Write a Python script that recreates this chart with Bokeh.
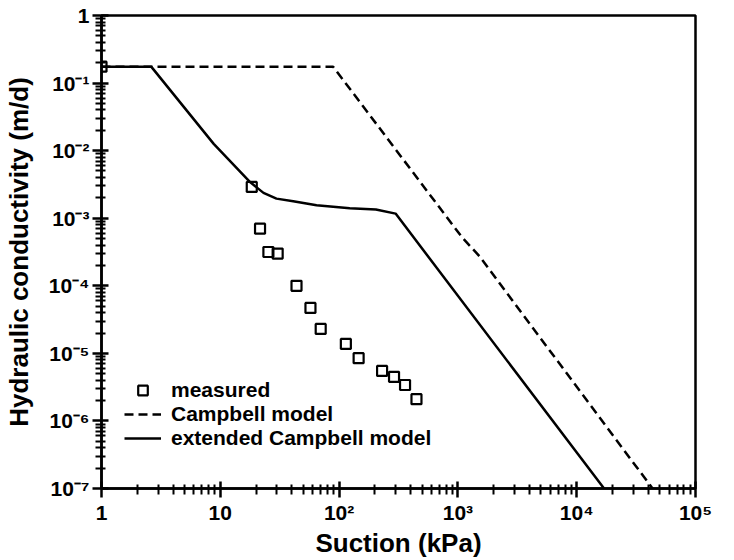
from bokeh.plotting import figure
from bokeh.models import Range1d, FixedTicker, Legend, LegendItem
from bokeh.embed import file_html
from bokeh.resources import INLINE

# ---- data ----
measured_x = [1, 18.4, 21.6, 25.4, 30.4, 43.8, 57.4, 70, 114, 146, 230, 290, 359, 448]
measured_y = [0.175, 2.9e-3, 7.0e-4, 3.16e-4, 3.0e-4, 1.0e-4, 4.7e-5, 2.3e-5,
              1.38e-5, 8.5e-6, 5.5e-6, 4.5e-6, 3.4e-6, 2.1e-6]

campbell_x = [1, 89, 1085, 1515, 43500]
campbell_y = [0.175, 0.175, 5.2e-4, 2.75e-4, 1e-7]

ext_x = [1, 2.62, 8.8, 17.9, 23.1, 29.7, 41.1, 64.6, 123, 204, 299, 17000]
ext_y = [0.175, 0.175, 0.0126, 3.4e-3, 2.37e-3, 1.95e-3, 1.78e-3, 1.55e-3,
         1.41e-3, 1.35e-3, 1.17e-3, 1e-7]

x_ticks = [1, 10, 100, 1000, 10000, 100000]
x_tick_labels = ["1", "10", "10\u00b2", "10\u00b3", "10\u2074", "10\u2075"]
y_ticks = [1e-7, 1e-6, 1e-5, 1e-4, 1e-3, 1e-2, 1e-1, 1]
y_tick_labels = ["10\u207b\u2077", "10\u207b\u2076", "10\u207b\u2075", "10\u207b\u2074",
                 "10\u207b\u00b3", "10\u207b\u00b2", "10\u207b\u00b9", "1"]

x_label = "Suction (kPa)"
y_label = "Hydraulic conductivity (m/d)"
series_names = ["measured", "Campbell model", "extended Campbell model"]

FONT = "Liberation Sans"

p = figure(width=734, height=560, x_axis_type="log", y_axis_type="log",
           x_range=Range1d(1, 1e5), y_range=Range1d(1e-7, 1),
           output_backend="svg", toolbar_location=None,
           min_border_left=97, min_border_right=39, min_border_top=15,
           min_border_bottom=70)
p.grid.visible = False
p.outline_line_color = "black"
p.outline_line_width = 2.5
p.background_fill_color = "white"
p.border_fill_color = "white"

def minor(ticks):
    out = []
    for t in ticks[:-1]:
        out += [t * k for k in range(2, 10)]
    return out

p.xaxis.ticker = FixedTicker(ticks=x_ticks, minor_ticks=minor(x_ticks))
p.yaxis.ticker = FixedTicker(ticks=y_ticks, minor_ticks=minor(y_ticks))
p.xaxis.major_label_overrides = dict(zip(x_ticks, x_tick_labels))
p.yaxis.major_label_overrides = dict(zip(y_ticks, y_tick_labels))

for ax in (p.xaxis[0], p.yaxis[0]):
    ax.axis_line_width = 2.5
    ax.axis_line_color = "black"
    ax.major_tick_line_color = "black"
    ax.minor_tick_line_color = "black"
    ax.major_tick_line_width = 2.5
    ax.minor_tick_line_width = 2
    ax.major_tick_out = 9
    ax.major_tick_in = 7
    ax.minor_tick_out = 6
    ax.minor_tick_in = 4
    ax.major_label_text_font = FONT
    ax.major_label_text_font_style = "bold"
    ax.major_label_text_font_size = "21px"
    ax.major_label_text_color = "black"
    ax.axis_label_text_font = FONT
    ax.axis_label_text_font_style = "bold"
    ax.axis_label_text_font_size = "26px"
    ax.axis_label_text_color = "black"

p.xaxis.axis_label = x_label
p.yaxis.axis_label = y_label
p.xaxis.major_label_standoff = 3
p.xaxis.axis_label_standoff = 1
p.yaxis.major_label_standoff = 3
p.yaxis.axis_label_standoff = 12

r_meas = p.scatter(measured_x, measured_y, marker="square", size=10,
                   fill_color=None, line_color="black", line_width=2.2)
r_camp = p.line(campbell_x, campbell_y, line_color="black", line_width=2.5,
                line_dash="9 5")
r_ext = p.line(ext_x, ext_y, line_color="black", line_width=2.5)

legend = Legend(items=[LegendItem(label=series_names[0], renderers=[r_meas]),
                       LegendItem(label=series_names[1], renderers=[r_camp]),
                       LegendItem(label=series_names[2], renderers=[r_ext])],
                location=(23, 38))
legend.border_line_color = None
legend.background_fill_alpha = 0
legend.padding = 0
legend.margin = 0
legend.spacing = 0
legend.glyph_width = 37
legend.glyph_height = 24
legend.label_height = 24
legend.label_standoff = 10
legend.label_text_font = FONT
legend.label_text_font_style = "bold"
legend.label_text_font_size = "21px"
legend.label_text_color = "black"
p.add_layout(legend)

open("out.html", "w").write(file_html(p, INLINE))
